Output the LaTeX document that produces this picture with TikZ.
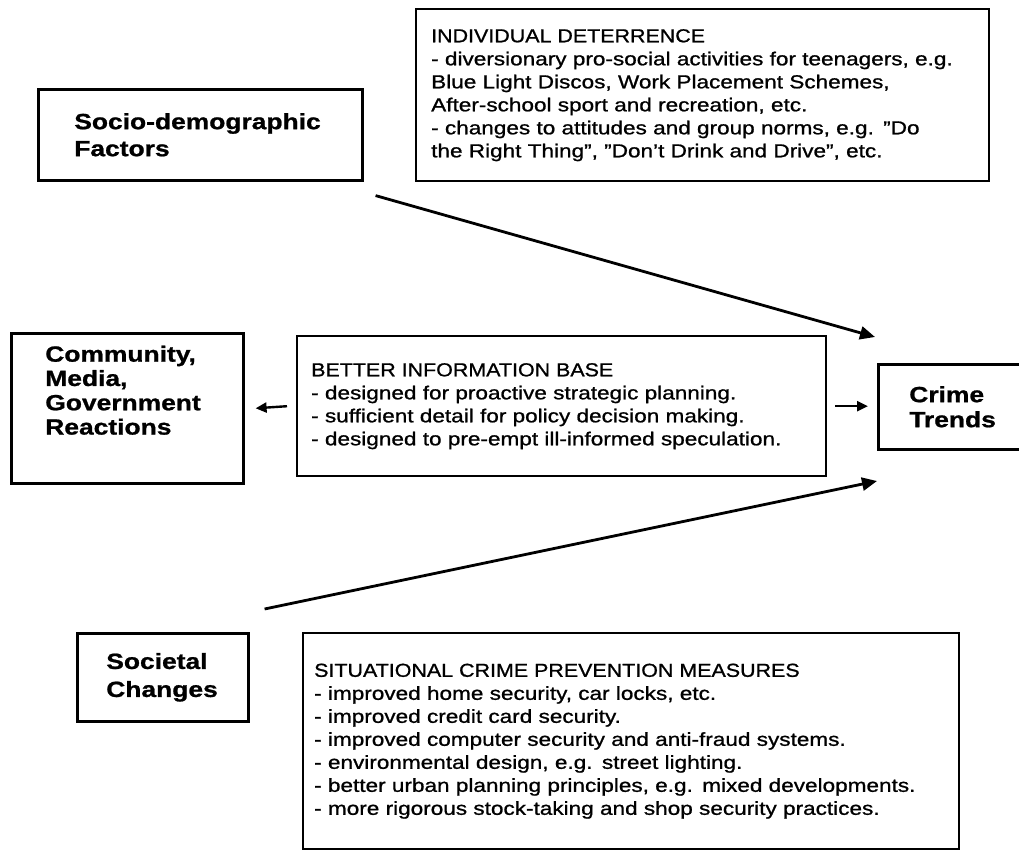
\documentclass[tikz,border=0pt]{standalone}
\usepackage{fontspec}
\setmainfont{Liberation Sans}[FakeStretch=1.2, FakeBold=1.0]
\usetikzlibrary{arrows.meta, positioning, calc}

\newcommand{\padbelow}[1]{\\[#1]\mbox{}}
\newcommand{\heading}[1]{\scalebox{0.95}[1]{#1}}
\newcommand{\qq}{\symbol{34}}

\tikzset{
  factor/.style={draw, line width=2.6pt, align=left, anchor=north west, inner ysep=0pt},
  measure/.style={draw, line width=2.4pt, align=left, anchor=north west, inner ysep=0pt,
                  font=\fontsize{18.8}{23}\selectfont},
  flow/.style={-{Triangle[length=15pt, width=13pt]}, line width=2.8pt},
  nudge/.style={-{Triangle[length=11pt, width=10pt]}, line width=2.4pt},
}

\begin{document}
\begin{tikzpicture}[x=1pt, y=-1pt]
    \useasboundingbox (0,0) rectangle (1019,850);

    % outer factors
    \node[factor, text width=252pt, inner xsep=36pt, minimum height=91pt,
          font=\bfseries\fontsize{22}{27}\selectfont] (socio) at (37,88)
          {Socio-demographic\\Factors};
    \node[factor, text width=164pt, inner xsep=34pt, minimum height=150pt,
          font=\bfseries\fontsize{22}{24.3}\selectfont] (comm) at (10,332)
          {Community,\\Media,\\Government\\Reactions\padbelow{12pt}};
    \node[factor, text width=100pt, inner xsep=31pt, minimum height=85pt,
          font=\bfseries\fontsize{22}{25}\selectfont] (crime) at (877,363)
          {Crime\\Trends};
    \node[factor, text width=113pt, inner xsep=29pt, minimum height=88pt,
          font=\bfseries\fontsize{22}{28}\selectfont] (soc) at (76,632)
          {Societal\\Changes};

    % measures
    \node[measure, text width=543pt, inner xsep=15pt, minimum height=172pt] (indiv) at (415,8)
          {\heading{INDIVIDUAL DETERRENCE}\\
           - diversionary pro-social activities for teenagers, e.g.\\
           Blue Light Discos, Work Placement Schemes,\\
           After-school sport and recreation, etc.\\
           - changes to attitudes and group norms, e.g. \qq Do\\
           the Right Thing\qq, \qq Don't Drink and Drive\qq, etc.};
    \node[measure, text width=501pt, inner xsep=14pt, minimum height=140pt] (info) at (296,335)
          {\heading{BETTER INFORMATION BASE}\\
           - designed for proactive strategic planning.\\
           - sufficient detail for policy decision making.\\
           - designed to pre-empt ill-informed speculation.};
    \node[measure, text width=634pt, inner xsep=11pt, minimum height=216pt] (sit) at (302,632)
          {\heading{SITUATIONAL CRIME PREVENTION MEASURES}\\
           - improved home security, car locks, etc.\\
           - improved credit card security.\\
           - improved computer security and anti-fraud systems.\\
           - environmental design, e.g. street lighting.\\
           - better urban planning principles, e.g. mixed developments.\\
           - more rigorous stock-taking and shop security practices.};

    % influences on crime trends
    \coordinate (topend) at (875,337);
    \coordinate (lowend) at (877,481);
    \draw[flow] ([shift={(12,14)}]socio.south east) -- (topend);
    \draw[flow] ([shift={(15,-23)}]soc.north east) -- (lowend);
    \draw[nudge] ([xshift=-9pt]info.west) -- ([xshift=11pt]comm.east);
    \draw[nudge] ([xshift=8pt]info.east) -- ([xshift=-9pt]info.east -| crime.west);
\end{tikzpicture}
\end{document}
